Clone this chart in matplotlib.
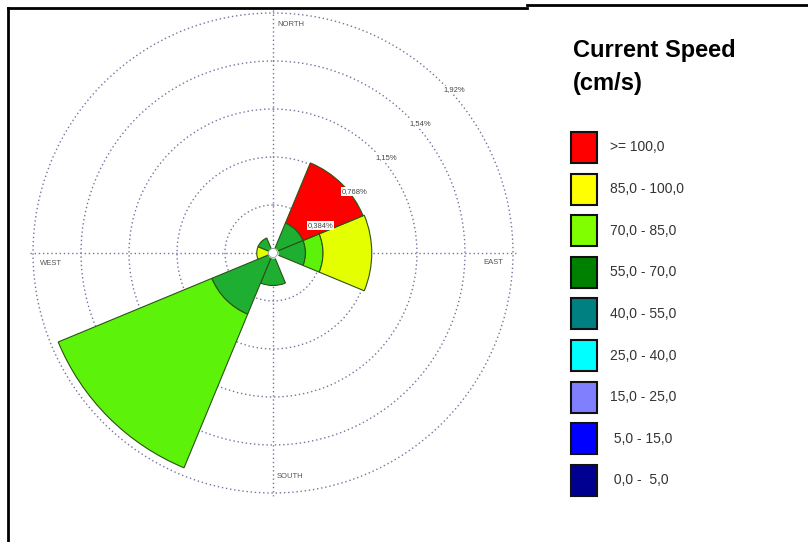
import numpy as np
import matplotlib
matplotlib.use("Agg")
import matplotlib.pyplot as plt
from matplotlib.lines import Line2D
from matplotlib.patches import Rectangle

# ---- data -------------------------------------------------------------
directions = ["N", "NE", "E", "SE", "S", "SW", "W", "NW"]
direction_deg = [0, 45, 90, 135, 180, 225, 270, 315]

# frequency (%) per direction for each speed class, stacked from the centre
freq_55_70 = [0.00, 0.26, 0.26, 0.00, 0.26, 0.53, 0.00, 0.13]
freq_70_85 = [0.00, 0.00, 0.14, 0.00, 0.00, 1.33, 0.00, 0.00]
freq_85_100 = [0.00, 0.00, 0.39, 0.00, 0.00, 0.00, 0.13, 0.00]
freq_100_up = [0.00, 0.52, 0.00, 0.00, 0.00, 0.00, 0.00, 0.00]

ring_values = [0.384, 0.768, 1.152, 1.536, 1.92]
ring_labels = ["0,384%", "0,768%", "1,15%", "1,54%", "1,92%"]
calm_radius = 0.036

legend_labels = [">= 100,0", "85,0 - 100,0", "70,0 - 85,0", "55,0 - 70,0",
                 "40,0 - 55,0", "25,0 - 40,0", "15,0 - 25,0", " 5,0 - 15,0",
                 " 0,0 -  5,0"]
legend_colors = ["#FF0000", "#FFFF00", "#80FF00", "#008000", "#008080",
                 "#00FFFF", "#8080FF", "#0000FF", "#000090"]

# ---- figure -----------------------------------------------------------
W, H = 808, 542
fig = plt.figure(figsize=(W / 100, H / 100), dpi=100)
fig.patch.set_facecolor("white")

cx, cy = 273, 253           # rose centre (px)
rmax = 1.95
rad_px = 240 * rmax / 1.92
ax = fig.add_axes([(cx - rad_px) / W, (H - cy - rad_px) / H,
                   2 * rad_px / W, 2 * rad_px / H], projection="polar")
ax.set_theta_zero_location("N")
ax.set_theta_direction(-1)
ax.set_ylim(0, rmax)
ax.spines["polar"].set_visible(False)
ax.set_facecolor("none")

grid_kw = dict(color="#7474a0", linestyle=(0, (1, 2)), linewidth=1.0)
ax.set_yticks(ring_values)
ax.set_yticklabels([])
ax.set_thetagrids([0, 90, 180, 270], labels=[""] * 4)
ax.yaxis.grid(True, **grid_kw)
ax.xaxis.grid(True, **grid_kw)
ax.set_axisbelow(True)

theta = np.deg2rad(direction_deg)
width = np.deg2rad(45)
bar_colors = ["#1EAF32", "#5CF20A", "#E4FF00", "#FF0000"]
bottom = np.zeros(len(directions))
for vals, col in zip([freq_55_70, freq_70_85, freq_85_100, freq_100_up], bar_colors):
    vals = np.array(vals)
    mask = vals > 0
    ax.bar(theta[mask], vals[mask], width=width, bottom=bottom[mask],
           color=col, edgecolor="#2c5214", linewidth=0.8, zorder=3)
    bottom = bottom + vals

# calm circle
tt = np.linspace(0, 2 * np.pi, 100)
ax.fill_between(tt, 0, calm_radius, color="white", zorder=4)
ax.plot(tt, np.full_like(tt, calm_radius), color="#999999", lw=0.6, zorder=5)

# ring labels along the north-east diagonal
for r, lab in zip(ring_values, ring_labels):
    ax.annotate(lab, xy=(np.deg2rad(45), r), xytext=(1, -3),
                textcoords="offset pixels", ha="left", va="top",
                fontsize=5.5, color="#444444", family="Liberation Sans",
                zorder=6,
                bbox=dict(boxstyle="square,pad=0.1", fc="white", ec="none"))

# compass labels
lab_kw = dict(textcoords="offset pixels", fontsize=5.5, color="#555555",
              family="Liberation Sans", zorder=6)
ax.annotate("NORTH", xy=(0, 1.824), xytext=(4, 0), ha="left", va="center", **lab_kw)
ax.annotate("SOUTH", xy=(np.pi, 1.792), xytext=(4, 0), ha="left", va="center", **lab_kw)
ax.annotate("WEST", xy=(np.deg2rad(270), 1.864), xytext=(0, -10), ha="left", va="center", **lab_kw)
ax.annotate("EAST", xy=(np.deg2rad(90), 1.84), xytext=(0, -10), ha="right", va="center", **lab_kw)

# ---- legend -----------------------------------------------------------
def fx(px):
    return px / W


def fy(py):
    return 1 - py / H


fig.text(fx(573), fy(57), "Current Speed", ha="left", va="baseline",
         fontsize=17, weight="bold", family="Liberation Sans", color="black")
fig.text(fx(573), fy(90), "(cm/s)", ha="left", va="baseline",
         fontsize=17, weight="bold", family="Liberation Sans", color="black")

row0, step = 147.5, 41.6
sw_w, sw_h = 26, 31
for i, (lab, col) in enumerate(zip(legend_labels, legend_colors)):
    yc = row0 + i * step
    fig.add_artist(Rectangle((fx(571), fy(yc + sw_h / 2)), sw_w / W, sw_h / H,
                             transform=fig.transFigure, facecolor=col,
                             edgecolor="#111111", linewidth=1.5))
    fig.text(fx(610), fy(yc), lab, ha="left", va="center", fontsize=10,
             family="Liberation Sans", color="#333333")

# ---- frame lines ------------------------------------------------------
line_kw = dict(transform=fig.transFigure, color="black", linewidth=2)
fig.add_artist(Line2D([fx(8), fx(8)], [fy(8), 0], **line_kw))
fig.add_artist(Line2D([fx(8), fx(527)], [fy(8), fy(8)], **line_kw))
fig.add_artist(Line2D([fx(527), 1], [fy(5), fy(5)], **line_kw))

fig.savefig("out.png", dpi=100, facecolor="white")
